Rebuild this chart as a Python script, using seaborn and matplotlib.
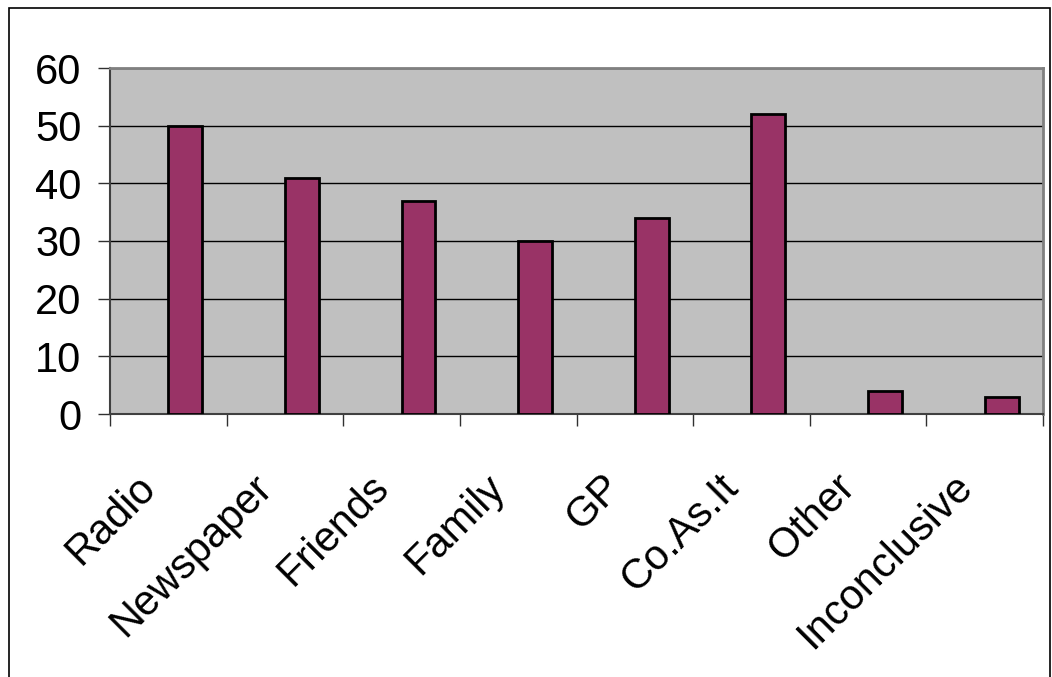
import matplotlib
matplotlib.use("Agg")
import matplotlib.pyplot as plt
import matplotlib.transforms as mtransforms
from matplotlib.patches import Rectangle
import seaborn as sns
import pandas as pd
import numpy as np

# Sources of information
categories = ["Radio", "Newspaper", "Friends", "Family", "GP", "Co.As.It", "Other", "Inconclusive"]
counts = [50, 41, 37, 30, 34, 52, 4, 3]
y_ticks = [0, 10, 20, 30, 40, 50, 60]

# clustered layout: an empty first series slot, responses in the second
series_order = ["(none)", "Responses"]
df = pd.DataFrame({"source": categories, "count": counts, "series": "Responses"})

sns.set_theme(style="white")
plt.rcParams["font.family"] = ["Liberation Sans", "DejaVu Sans"]
plt.rcParams["text.color"] = "black"
plt.rcParams["xtick.color"] = "black"
plt.rcParams["ytick.color"] = "black"

DPI = 100
W, H = 1052, 677
fig = plt.figure(figsize=(W / DPI, H / DPI), dpi=DPI)

# plot area in pixel coordinates
left, right, top, bottom = 110, 1043, 68, 414
ax = fig.add_axes([left / W, 1 - bottom / H, (right - left) / W, (bottom - top) / H])
ax.set_facecolor("#C0C0C0")

sns.barplot(data=df, x="source", y="count", hue="series", hue_order=series_order,
            palette={"(none)": "#C0C0C0", "Responses": "#993366"}, width=0.58,
            dodge=True, edgecolor="black", linewidth=2.0, saturation=1,
            legend=False, ax=ax, zorder=3)

ax.set_xlim(-0.5, len(categories) - 0.5)
ax.set_ylim(0, 60)
ax.set_xlabel("")
ax.set_ylabel("")

# y axis
ax.set_yticks(y_ticks)
ax.set_yticklabels([str(v) for v in y_ticks], fontsize=30, color="black")
ax.tick_params(axis="y", left=True, length=8.6, width=1.0, color="#303030", pad=12)
ax.grid(axis="y", color="black", linewidth=1.0, zorder=1)
ax.set_axisbelow(True)

# x axis: boundary ticks with labels centred between them
ax.set_xticks(np.arange(-0.5, len(categories), 1.0))
ax.set_xticklabels([])
ax.tick_params(axis="x", which="major", bottom=True, length=8.6, width=1.0, color="#303030")
ax.set_xticks(np.arange(len(categories)), minor=True)
ax.set_xticklabels(categories, minor=True, fontsize=30, rotation=45, color="black",
                   ha="right", va="top", rotation_mode="anchor")
ax.tick_params(axis="x", which="minor", bottom=True, length=0, pad=38)
offset = mtransforms.ScaledTranslation(-33 / DPI, 0, fig.dpi_scale_trans)
for lbl in ax.get_xticklabels(minor=True):
    lbl.set_transform(lbl.get_transform() + offset)

for side in ["top", "right"]:
    ax.spines[side].set_visible(True)
    ax.spines[side].set_color("#808080")
    ax.spines[side].set_linewidth(2.0)
ax.spines["left"].set_color("#404040")
ax.spines["left"].set_linewidth(1.5)
ax.spines["bottom"].set_color("#404040")
ax.spines["bottom"].set_linewidth(1.5)

# chart frame
fig.patches.append(Rectangle((8.5 / W, -0.02), (1050 - 8.5) / W, 1.02 - 7.5 / H,
                             transform=fig.transFigure, fill=False,
                             edgecolor="black", linewidth=1.2))

fig.savefig("out.png", dpi=DPI)
